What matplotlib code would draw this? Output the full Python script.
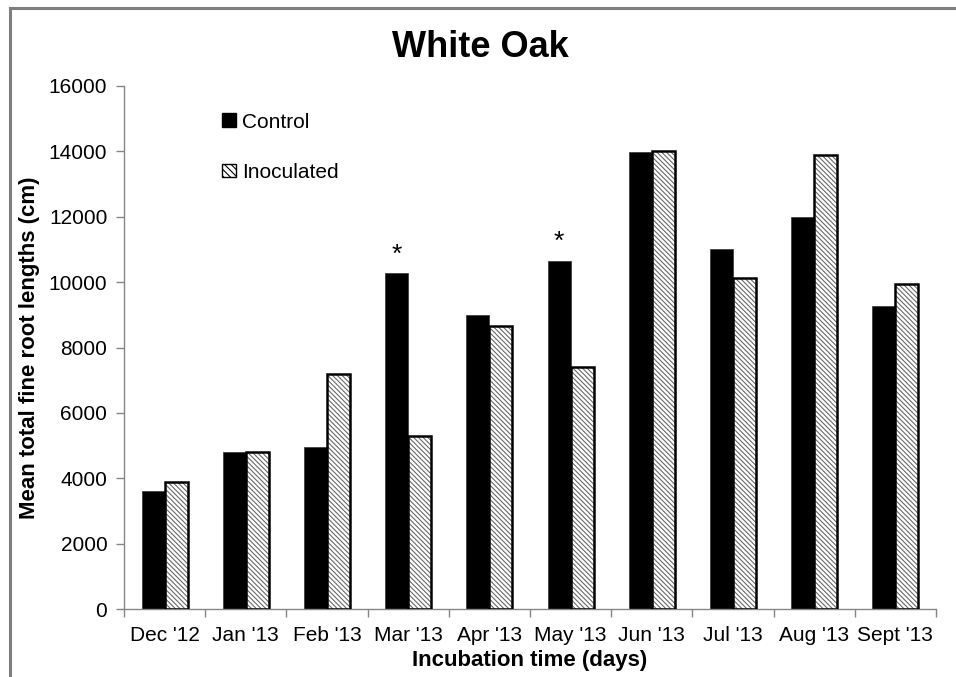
import numpy as np
import matplotlib
matplotlib.use("Agg")
import matplotlib.pyplot as plt
from matplotlib.lines import Line2D
from matplotlib.patches import Patch

plt.rcParams['font.family'] = ['Liberation Sans', 'DejaVu Sans']
plt.rcParams['hatch.linewidth'] = 0.8

months = ["Dec '12", "Jan '13", "Feb '13", "Mar '13", "Apr '13",
          "May '13", "Jun '13", "Jul '13", "Aug '13", "Sept '13"]
control = [3600, 4800, 4960, 10280, 9000, 10650, 13970, 11000, 12000, 9280]
inoculated = [3900, 4800, 7200, 5290, 8660, 7400, 14020, 10120, 13880, 9940]
significant = [False, False, False, True, False, True, False, False, False, False]

fig = plt.figure(figsize=(9.56, 6.77), dpi=100)
ax = fig.add_axes([0.1297, 0.1004, 0.8493, 0.7726])

x = np.arange(len(months))
w = 0.283

ax.bar(x - w / 2, control, w, color='black', edgecolor='#404040', linewidth=0.6, zorder=2)
ax.bar(x + w / 2, inoculated, w, color='white', edgecolor='#6a6a6a',
       hatch='\\\\\\\\\\\\\\', linewidth=0, zorder=2)
ax.bar(x + w / 2, inoculated, w, color='none', edgecolor='black', linewidth=1.8, zorder=3)

for xi, v, s in zip(x, control, significant):
    if s:
        ax.text(xi - w / 2, v + 200, '*', ha='center', va='bottom', fontsize=19)

ax.set_xlim(-0.5, len(months) - 0.5)
ax.set_ylim(0, 16000)
ax.set_yticks(np.arange(0, 16001, 2000))
ax.set_xticks(x)
ax.set_xticklabels(months)
ax.set_xticks(np.arange(-0.5, len(months)), minor=True)
ax.tick_params(axis='x', which='major', length=0, pad=12, labelsize=15)
ax.tick_params(axis='x', which='minor', length=6, color='#868686', width=1)
ax.tick_params(axis='y', length=6, color='#868686', width=1, labelsize=15, pad=6)

for side in ['top', 'right']:
    ax.spines[side].set_visible(False)
for side in ['left', 'bottom']:
    ax.spines[side].set_color('#868686')
    ax.spines[side].set_linewidth(1)

ax.set_xlabel('Incubation time (days)', fontsize=16, fontweight='bold', labelpad=4)
ax.set_ylabel('Mean total fine root lengths (cm)', fontsize=16, fontweight='bold')
ax.yaxis.set_label_coords(-0.103, 0.5)
fig.text(0.502, 0.93, 'White Oak', ha='center', va='center', fontsize=26, fontweight='bold')

handles = [Patch(facecolor='black', edgecolor='black'),
           Patch(facecolor='white', edgecolor='black', hatch='\\\\\\\\\\')]
ax.legend(handles, ['Control', 'Inoculated'], loc='upper left',
          bbox_to_anchor=(0.098, 0.985), frameon=False, fontsize=15,
          handlelength=0.65, handleheight=0.65, handletextpad=0.3,
          labelspacing=1.5)

# figure frame (top and left edges visible)
fig.add_artist(Line2D([0.0105, 0.0105], [0, 0.988], color='#7f7f7f', lw=2.2,
                      transform=fig.transFigure))
fig.add_artist(Line2D([0.0105, 1], [0.988, 0.988], color='#7f7f7f', lw=2.2,
                      transform=fig.transFigure))

fig.savefig('out.png', dpi=100)
